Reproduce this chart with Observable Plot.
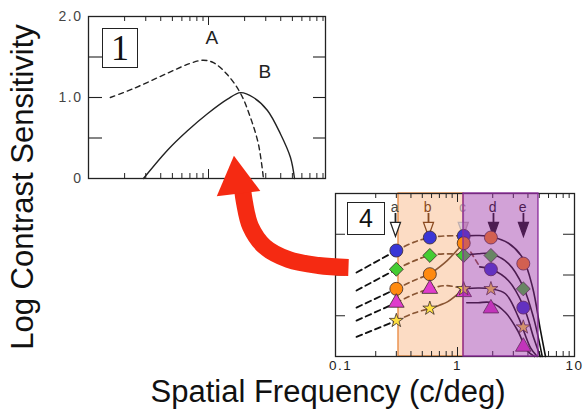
<!DOCTYPE html>
<html><head><meta charset="utf-8">
<script src="https://cdn.jsdelivr.net/npm/d3@7"></script>
<script src="https://cdn.jsdelivr.net/npm/@observablehq/plot@0.6"></script>
<style>
html,body{margin:0;padding:0;background:#fff;}
#fig{position:relative;width:587px;height:416px;overflow:hidden;font-family:"Liberation Sans",Arial,sans-serif;background:#fff;}
.lab{position:absolute;font-size:31px;line-height:24px;white-space:nowrap;color:#111;}
.box{position:absolute;box-sizing:border-box;border:1.3px solid #222;background:#fff;display:flex;align-items:center;justify-content:center;color:#111;}
</style></head><body><div id="fig"></div>
<script>
// ---------- Panel 1 (schematic CSF curves) ----------
const p1Domain = [0.1, 9.44];
const p1YTicks = [0, 1, 2];
const p1YTickLabels = ["0", "1.0", "2.0"];
const innerYTicks = [0.5, 1.0, 1.5];
const minorX = [0.2,0.3,0.4,0.5,0.6,0.7,0.8,0.9,2,3,4,5,6,7,8,9];
const majorX = [1];
// curve A (dashed) [frequency, log sensitivity]
const curveA = [[0.152,1.00],[0.237,1.11],[0.455,1.30],[0.70,1.42],[0.90,1.46],[1.10,1.43],[1.44,1.28],[1.85,1.05],[2.24,0.75],[2.61,0.42],[2.87,0.0]];
// curve B (solid)
const curveB = [[0.287,0],[0.455,0.35],[0.668,0.59],[0.98,0.80],[1.44,0.98],[1.85,1.06],[2.37,1.00],[3.10,0.84],[3.98,0.55],[4.82,0.26],[5.21,0]];
const curveLabels = ["A", "B"];
const curveLabelPos = [[1.08,1.73],[2.99,1.31]];

// ---------- Panel 4 (data) ----------
const p4Domain = [0.0906, 10];
const p4XTicks = [0.1, 1, 10];
const p4XTickLabels = ["0.1", "1", "10"];
const minorX4 = [0.2,0.3,0.4,0.5,0.6,0.7,0.8,0.9,2,3,4,5,6,7,8,9];
const orangeBand = [0.313, 1.125];
const purpleBand = [1.125, 4.92];
const arrowFreqs = [0.295, 0.565, 1.12, 2.03, 3.66];
const arrowLetters = ["a", "b", "c", "d", "e"];
const columnFreq = [0.3, 0.58, 1.13, 1.93, 3.65];
const blueCircle = [1.30, 1.46, 1.48, 1.07, 0.60];
const greenDiamond = [1.07, 1.24, 1.24, 1.24, 0.83];
const orangeCircle = [0.83, 1.01, 1.39, 1.46, 1.14];
const magentaTriangle = [0.66, 0.83, 0.79, 0.59, 0.12];
const yellowStar = [0.44, 0.59, 0.83, 0.83, 0.36];
// fitted curves
const blackDashed = [
  [[0.137,1.03],[0.30,1.30]],
  [[0.137,0.81],[0.30,1.07]],
  [[0.137,0.60],[0.30,0.83]],
  [[0.137,0.44],[0.30,0.66]],
  [[0.137,0.24],[0.30,0.44]]
];
const brownDashed = [
  [[0.30,1.30],[0.42,1.40],[0.58,1.46],[0.80,1.48],[1.13,1.48]],
  [[0.30,1.07],[0.42,1.17],[0.58,1.24],[0.85,1.26],[1.13,1.24]],
  [[0.30,0.83],[0.42,0.93],[0.58,1.01]],
  [[0.30,0.66],[0.42,0.76],[0.58,0.83],[0.80,0.87],[1.13,0.83]],
  [[0.30,0.44],[0.42,0.53],[0.58,0.59]],
  [[1.30,1.28],[1.55,1.10]]
];
const brownSolid = [
  [[0.58,1.01],[0.82,1.18],[1.13,1.40]],
  [[0.58,0.59],[0.70,0.63],[0.82,0.67],[1.13,0.83]]
];
const darkSolid = [
  [[1.13,1.48],[1.5,1.485],[1.95,1.47],[2.73,1.39],[3.6,1.21],[4.38,0.85],[5.12,0.32],[5.65,0]],
  [[1.13,1.24],[1.5,1.26],[1.92,1.26],[2.73,1.14],[3.66,0.85],[4.46,0.48],[5.3,0]],
  [[1.55,1.10],[1.95,1.07],[2.73,0.93],[3.66,0.62],[4.5,0.22],[5.1,0]],
  [[1.13,0.83],[1.5,0.84],[1.95,0.83],[2.57,0.77],[3.32,0.48],[4.2,0.11],[4.8,0]],
  [[1.2,0.66],[1.5,0.66],[1.95,0.66],[2.57,0.54],[3.26,0.32],[3.95,0.07],[4.55,0]]
];

// ---------- Red connecting arrow (figure pixel space) ----------
const arrowBody = [[348,267],[318,265],[288,259],[264,246],[250,226],[244,202],[242,188]];
const arrowHead = [[236.5,180.5]];

const fig = document.getElementById("fig");
function place(el, left, top){ el.style.position="absolute"; el.style.left=left+"px"; el.style.top=top+"px"; fig.appendChild(el); }
const baseStyle = {fontFamily:"'Liberation Sans', Arial, sans-serif", fontSize:"14px", background:"transparent", color:"#222", overflow:"visible", letterSpacing:"1.5px"};
const flat = (arr) => arr.flatMap((pts, k) => pts.map(p => ({k, f:p[0], v:p[1]})));

// Panel 1
{
  const fw = 237, fh = 162;
  const p1 = Plot.plot({
    width: 340, height: 192, marginLeft: 88, marginTop: 16, marginRight: 15, marginBottom: 14,
    x: {type:"log", domain: p1Domain, axis: null},
    y: {domain: [0, 2], axis: null},
    style: baseStyle,
    marks: [
      Plot.tickY(innerYTicks, {y: d=>d, insetRight: fw-14, stroke:"#222", strokeWidth:1.1}),
      Plot.tickY(innerYTicks, {y: d=>d, insetLeft: fw-12, stroke:"#222", strokeWidth:1.1}),
      Plot.tickX(minorX, {x: d=>d, insetTop: fh-5, stroke:"#222"}),
      Plot.tickX(minorX, {x: d=>d, insetBottom: fh-5, stroke:"#222"}),
      Plot.tickX(majorX, {x: d=>d, insetTop: fh-9, stroke:"#222"}),
      Plot.tickX(majorX, {x: d=>d, insetBottom: fh-9, stroke:"#222"}),
      Plot.frame({stroke:"#222", strokeWidth:1.3}),
      Plot.text(p1YTicks, {y: d=>d, text: (d,i)=>p1YTickLabels[i], frameAnchor:"left", dx:-6, textAnchor:"end", fill:"#444", fontSize:14}),
      Plot.line(curveA, {x: d=>d[0], y: d=>d[1], curve:"catmull-rom", stroke:"#222", strokeWidth:1.4, strokeDasharray:"5,4"}),
      Plot.line(curveB, {x: d=>d[0], y: d=>d[1], curve:"catmull-rom", stroke:"#222", strokeWidth:1.4}),
      Plot.text(curveLabels, {x: (d,i)=>curveLabelPos[i][0], y: (d,i)=>curveLabelPos[i][1], text: d=>d, fontSize:19, fill:"#222", lineAnchor:"middle"})
    ]
  });
  place(p1, 0, 0);
  const b1 = document.createElement("div");
  b1.className = "box";
  b1.style.cssText += "width:36px;height:40px;font-family:'Liberation Serif','DejaVu Serif',serif;font-size:36px;line-height:1;";
  b1.textContent = "1";
  place(b1, 102, 28);
}

// Panel 4
{
  const fw = 239, fh = 163;
  const marks = [
    Plot.rect([orangeBand], {x1: d=>d[0], x2: d=>d[1], y1: 0, y2: 2, fill:"#fcdcc4", stroke:"#e8873c", strokeWidth:1.3}),
    Plot.tickY(innerYTicks, {y: d=>d, insetRight: fw-10, stroke:"#222"}),
    Plot.tickY(innerYTicks, {y: d=>d, insetLeft: fw-11, stroke:"#222"}),
    Plot.tickX(minorX4, {x: d=>d, insetTop: fh-5, stroke:"#222"}),
    Plot.tickX(minorX4, {x: d=>d, insetBottom: fh-5, stroke:"#222"}),
    Plot.tickX([1], {x: d=>d, insetTop: fh-9, stroke:"#222"}),
    Plot.tickX([1], {x: d=>d, insetBottom: fh-9, stroke:"#222"}),
    Plot.frame({stroke:"#222", strokeWidth:1.3}),
    Plot.text(p4XTicks, {x: d=>d, text: (d,i)=>p4XTickLabels[i], frameAnchor:"bottom", dy:9, lineAnchor:"middle", fill:"#222", fontSize:13.5}),
    Plot.line(flat(blackDashed), {x:"f", y:"v", z:"k", stroke:"#111", strokeWidth:1.8, strokeDasharray:"6,4"}),
    Plot.line(flat(brownDashed), {x:"f", y:"v", z:"k", curve:"catmull-rom", stroke:"#8a5634", strokeWidth:1.7, strokeDasharray:"5,4"}),
    Plot.line(flat(brownSolid), {x:"f", y:"v", z:"k", curve:"catmull-rom", stroke:"#8a5634", strokeWidth:1.6}),
    Plot.line(flat(darkSolid), {x:"f", y:"v", z:"k", curve:"catmull-rom", stroke:"#111", strokeWidth:1.6})
  ];
  // arrows a-e
  const headSymbol = {draw(ctx){ ctx.moveTo(-5,-7); ctx.lineTo(5,-7); ctx.lineTo(0,7); ctx.closePath(); }};
  const arrowStyle = [
    {shaft:"#222", fill:"#fff", stroke:"#222", letter:"#444"},
    {shaft:"#8a4a20", fill:"#fcdcc4", stroke:"#8a4a20", letter:"#8a4a20"},
    {shaft:"#c8b8b8", fill:"#e0d0d0", stroke:"#c0b0b0", letter:"#a89898"},
    {shaft:"#111", fill:"#111", stroke:"#111", letter:"#111"},
    {shaft:"#111", fill:"#111", stroke:"#111", letter:"#111"}
  ];
  arrowLetters.forEach((L, i) => {
    const s = arrowStyle[i];
    marks.push(Plot.ruleX([arrowFreqs[i]], {x: d=>d, y1: 1.755, y2: 1.62, stroke: s.shaft, strokeWidth: 1.8}));
    marks.push(Plot.dot([arrowFreqs[i]], {x: d=>d, y: 1.56, r: 5, symbol: headSymbol, fill: s.fill, stroke: s.stroke, strokeWidth: 1.3}));
    marks.push(Plot.text([L], {x: arrowFreqs[i], y: 1.83, text: d=>d, fill: s.letter, fontSize: 14, lineAnchor:"middle"}));
  });
  const mk = (vals, opts) => Plot.dot(vals, {x: (d,i)=>columnFreq[i], y: d=>d, stroke:"#3a2a2a", strokeWidth:0.8, ...opts});
  marks.push(
    mk(blueCircle, {symbol:"circle", r:6.5, fill:"#3a36d6"}),
    mk(greenDiamond, {symbol:"diamond2", r:6.3, fill:"#44cc33"}),
    mk(orangeCircle, {symbol:"circle", r:6.5, fill:"#ff8a10"}),
    mk(magentaTriangle, {symbol:"triangle", r:5.8, fill:"#e03ccc"}),
    mk(yellowStar, {symbol:"star", r:4.4, fill:"#ffe040"}),
    Plot.rect([purpleBand], {x1: d=>d[0], x2: d=>d[1], y1: 0, y2: 2, fill:"rgb(152,43,163)", fillOpacity:0.44, stroke:"#8a2a9a", strokeWidth:1.3})
  );
  const p4 = Plot.plot({
    width: 267, height: 200, marginLeft: 15, marginTop: 13, marginRight: 13, marginBottom: 24,
    x: {type:"log", domain: p4Domain, axis: null},
    y: {domain: [0, 2], axis: null},
    style: baseStyle,
    marks
  });
  place(p4, 320, 180);
  const b4 = document.createElement("div");
  b4.className = "box";
  b4.style.cssText += "width:38px;height:33px;font-size:25px;line-height:1;";
  b4.textContent = "4";
  place(b4, 347, 202);
}

// Axis titles
{
  const yl = document.createElement("div");
  yl.className = "lab";
  yl.textContent = "Log Contrast Sensitivity";
  yl.style.transform = "translate(-50%,-50%) rotate(-90deg)";
  place(yl, 23, 187);
  const xl = document.createElement("div");
  xl.className = "lab";
  xl.textContent = "Spatial Frequency (c/deg)";
  xl.style.transform = "translateX(-50%)";
  place(xl, 328, 380);
}

// Red arrow overlay
{
  const ov = Plot.plot({
    width: 587, height: 416, margin: 0,
    x: {domain:[0,587], range:[0,587], axis:null},
    y: {domain:[0,416], range:[0,416], axis:null},
    style: {background:"transparent", overflow:"visible"},
    marks: [
      Plot.line(arrowBody, {x: d=>d[0], y: d=>d[1], curve:"catmull-rom", stroke:"#f52a12", strokeWidth:17, strokeLinecap:"butt"}),
      Plot.dot(arrowHead, {x: d=>d[0], y: d=>d[1], symbol:"triangle", r:16.3, rotate:-7, fill:"#f52a12", stroke:"none"})
    ]
  });
  ov.style.pointerEvents = "none";
  place(ov, 0, 0);
}
</script></body></html>
